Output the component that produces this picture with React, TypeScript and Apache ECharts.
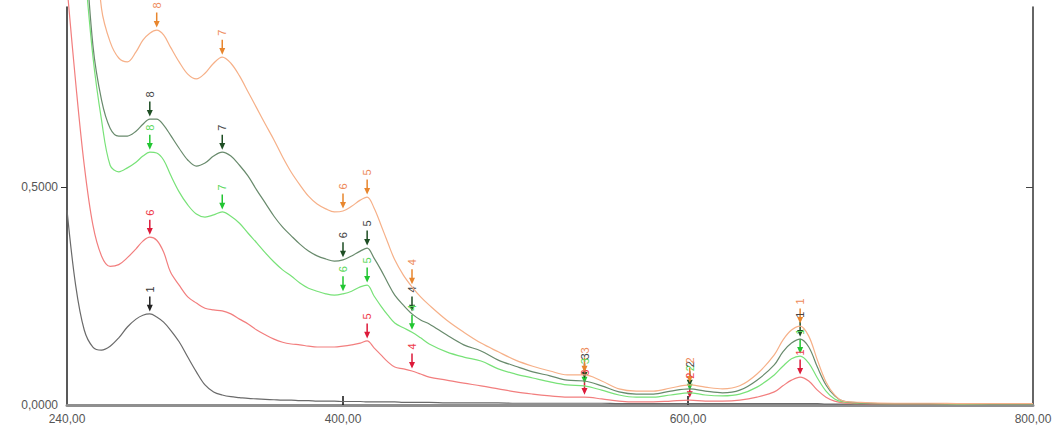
import React, { useEffect, useRef } from "react";
import * as echarts from "echarts";

const wavelengths = [240,245,250,255,260,265,270,275,280,284,288,292,296,300,305,310,315,320,325,330,335,340,345,350,355,360,365,370,375,380,385,390,395,400,405,410,414,418,422,426,430,435,440,445,450,460,470,480,490,500,510,520,530,540,550,560,570,580,590,601,610,620,630,640,650,655,660,665,670,675,680,685,690,700,720,740,760,780,800];

const absBlack = [0.447,0.275,0.172,0.133,0.126,0.135,0.154,0.179,0.197,0.206,0.209,0.202,0.19,0.172,0.145,0.11,0.076,0.046,0.03,0.023,0.019,0.017,0.015,0.014,0.013,0.012,0.011,0.011,0.010,0.010,0.009,0.009,0.009,0.008,0.008,0.008,0.007,0.007,0.007,0.007,0.007,0.006,0.006,0.006,0.006,0.005,0.005,0.005,0.005,0.004,0.004,0.004,0.004,0.004,0.004,0.003,0.003,0.003,0.003,0.003,0.003,0.003,0.003,0.003,0.003,0.003,0.003,0.003,0.003,0.003,0.002,0.002,0.002,0.002,0.002,0.002,0.002,0.002,0.002];

const absRed = [0.96,0.741,0.55,0.413,0.342,0.318,0.322,0.338,0.358,0.376,0.385,0.378,0.351,0.305,0.275,0.248,0.234,0.222,0.218,0.216,0.209,0.197,0.186,0.172,0.161,0.151,0.144,0.14,0.138,0.135,0.133,0.133,0.133,0.135,0.138,0.142,0.147,0.131,0.115,0.099,0.087,0.083,0.078,0.071,0.064,0.057,0.05,0.044,0.037,0.03,0.025,0.021,0.018,0.018,0.014,0.009,0.007,0.007,0.009,0.011,0.009,0.009,0.011,0.018,0.03,0.044,0.057,0.064,0.055,0.034,0.018,0.009,0.005,0.003,0.002,0.002,0.002,0.002,0.002];

const absLightGreen = [1.6,1.3,1.02,0.8,0.654,0.55,0.535,0.544,0.557,0.571,0.58,0.578,0.562,0.528,0.489,0.459,0.438,0.431,0.436,0.443,0.433,0.417,0.394,0.372,0.349,0.328,0.31,0.296,0.28,0.268,0.261,0.255,0.252,0.255,0.261,0.271,0.275,0.25,0.227,0.206,0.188,0.177,0.167,0.154,0.14,0.122,0.11,0.101,0.083,0.071,0.062,0.053,0.046,0.044,0.034,0.023,0.018,0.018,0.023,0.028,0.023,0.021,0.025,0.041,0.069,0.089,0.106,0.112,0.096,0.062,0.032,0.014,0.007,0.004,0.003,0.003,0.002,0.002,0.002];

const absDarkGreen = [1.9,1.5,1.1,0.826,0.70,0.635,0.617,0.617,0.628,0.644,0.656,0.656,0.642,0.619,0.589,0.562,0.548,0.555,0.571,0.58,0.571,0.55,0.525,0.493,0.463,0.433,0.408,0.388,0.369,0.353,0.342,0.335,0.33,0.333,0.342,0.353,0.36,0.337,0.31,0.28,0.252,0.229,0.209,0.195,0.186,0.161,0.138,0.124,0.103,0.089,0.076,0.067,0.057,0.055,0.044,0.03,0.025,0.025,0.032,0.037,0.032,0.028,0.034,0.057,0.092,0.122,0.142,0.151,0.133,0.087,0.046,0.021,0.009,0.005,0.003,0.003,0.003,0.002,0.002];

const absOrange = [2.4,2.0,1.6,1.15,0.91,0.833,0.796,0.787,0.81,0.837,0.853,0.86,0.849,0.821,0.787,0.759,0.748,0.761,0.784,0.798,0.784,0.755,0.718,0.681,0.644,0.608,0.569,0.534,0.505,0.479,0.461,0.45,0.443,0.445,0.456,0.47,0.477,0.452,0.413,0.372,0.333,0.298,0.271,0.248,0.229,0.195,0.167,0.142,0.122,0.103,0.089,0.078,0.069,0.069,0.055,0.037,0.032,0.032,0.039,0.046,0.041,0.037,0.044,0.071,0.115,0.149,0.172,0.181,0.158,0.103,0.053,0.023,0.009,0.006,0.004,0.004,0.003,0.003,0.003];

// peak markers: [wavelength, label]
const peaksBlack: [number, string][] = [[288, "1"]];
const peaksRed: [number, string][] = [[288, "6"], [414, "5"], [440, "4"], [540, "3"], [601, "2"], [665, "1"]];
const peaksLightGreen: [number, string][] = [[288, "8"], [330, "7"], [400, "6"], [414, "5"], [440, "4"], [540, "3"], [601, "2"], [665, "1"]];
const peaksDarkGreen: [number, string][] = [[288, "8"], [330, "7"], [400, "6"], [414, "5"], [440, "4"], [540, "3"], [601, "2"], [665, "1"]];
const peaksOrange: [number, string][] = [[292, "8"], [330, "7"], [400, "6"], [414, "5"], [440, "4"], [540, "3"], [601, "2"], [665, "1"]];

const xLabelValues = [240, 400, 600, 800];
const xTickValues = [400, 600];
const yLabelValues = [0, 0.5];
const yTickValues = [0.5];

const ARROW = "path://M3,0 L5,0 L5,9 L8,9 L4,16 L0,9 L3,9 Z";
const FONT = "Liberation Sans, Arial, sans-serif";

function makeSeries(name: string, vals: number[], peaks: [number, string][], lineColor: string, arrowColor: string, labelColor: string, z: number) {
  return {
    name,
    type: "line",
    data: wavelengths.map((w, i) => [w, vals[i]]),
    showSymbol: false,
    symbol: "none",
    smooth: 0.35,
    clip: false,
    z,
    lineStyle: { color: lineColor, width: 1.2 },
    markPoint: {
      silent: true,
      symbol: ARROW,
      symbolSize: [6, 15],
      symbolOffset: [0, -10],
      itemStyle: { color: arrowColor },
      label: {
        show: true,
        position: "top",
        distance: 4,
        rotate: 90,
        align: "left",
        verticalAlign: "middle",
        color: labelColor,
        fontSize: 11,
        fontFamily: FONT,
        formatter: (p: any) => p.name,
      },
      data: peaks.map(([nm, lab]) => ({ name: lab, coord: [nm, vals[wavelengths.indexOf(nm)]] })),
    },
  };
}

export default function App() {
  const ref = useRef<HTMLDivElement>(null);
  useEffect(() => {
    if (!ref.current) return;
    const chart = echarts.init(ref.current, undefined, { renderer: "svg" });
    const fmtX = (v: number) => v.toFixed(2).replace(".", ",");
    const fmtY = (v: number) => v.toFixed(4).replace(".", ",");
    chart.setOption({
      animation: false,
      backgroundColor: "#ffffff",
      grid: { left: 67, right: 27, top: 7, bottom: 27, containLabel: false },
      xAxis: {
        type: "value",
        min: 240,
        max: 800,
        interval: 40,
        axisLine: { show: true, onZero: false, lineStyle: { color: "#8f8f8f", width: 3 } },
        axisTick: { show: true, inside: true, length: 9, customValues: xTickValues, lineStyle: { color: "#111", width: 1.5 } },
        axisLabel: { show: true, customValues: xLabelValues, formatter: fmtX, color: "#555", fontSize: 12, fontFamily: FONT, margin: 8 },
        splitLine: { show: false },
      },
      yAxis: [
        {
          type: "value",
          min: 0,
          max: 0.913,
          position: "left",
          axisLine: { show: true, lineStyle: { color: "#222", width: 1.5 } },
          axisTick: { show: true, inside: false, length: 6, customValues: yTickValues, lineStyle: { color: "#333" } },
          axisLabel: { show: true, customValues: yLabelValues, formatter: fmtY, color: "#555", fontSize: 12, fontFamily: FONT, margin: 9 },
          splitLine: { show: false },
        },
        {
          type: "value",
          min: 0,
          max: 0.913,
          position: "right",
          axisLine: { show: true, lineStyle: { color: "#333", width: 1.5 } },
          axisTick: { show: true, inside: true, length: 7, customValues: yTickValues, lineStyle: { color: "#444" } },
          axisLabel: { show: false },
          splitLine: { show: false },
        },
      ],
      series: [
        makeSeries("black", absBlack, peaksBlack, "#6a6a6a", "#222222", "#333333", 5),
        makeSeries("red", absRed, peaksRed, "#f27e7e", "#dd1a3a", "#ee3a4a", 6),
        makeSeries("lightgreen", absLightGreen, peaksLightGreen, "#78e278", "#22c632", "#5ad85a", 7),
        makeSeries("darkgreen", absDarkGreen, peaksDarkGreen, "#688a6c", "#1e4e24", "#444444", 8),
        makeSeries("orange", absOrange, peaksOrange, "#f6b088", "#e8862e", "#ee8a5a", 9),
      ],
    });
    return () => chart.dispose();
  }, []);
  return <div ref={ref} style={{ position: "absolute", left: 0, top: 0, width: 1060, height: 432 }} />;
}
